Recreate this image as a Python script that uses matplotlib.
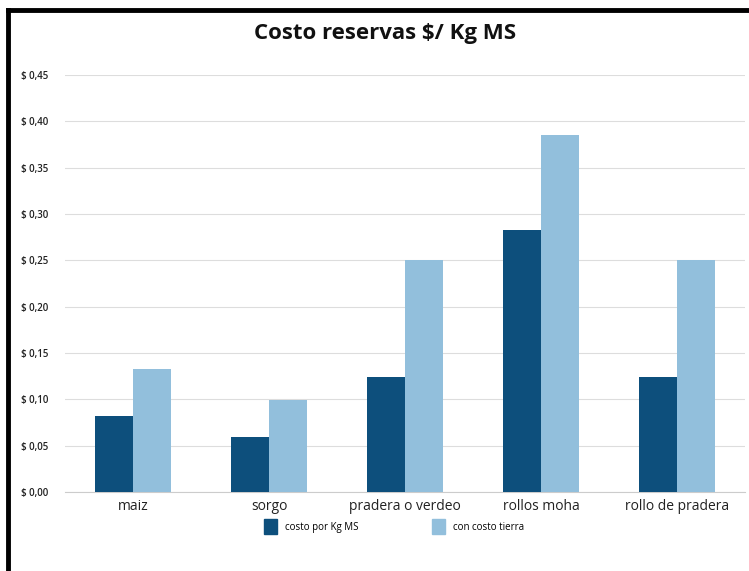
import matplotlib
matplotlib.use("Agg")
import matplotlib.pyplot as plt
import numpy as np
from matplotlib.lines import Line2D
from matplotlib.patches import Patch

categories = ["maiz", "sorgo", "pradera o verdeo", "rollos moha", "rollo de pradera"]
costo_kg = [0.082, 0.059, 0.124, 0.283, 0.124]
costo_tierra = [0.133, 0.099, 0.250, 0.385, 0.250]
yticks = [0, 0.05, 0.10, 0.15, 0.20, 0.25, 0.30, 0.35, 0.40, 0.45]
ytick_labels = ["$ 0,00", "$ 0,05", "$ 0,10", "$ 0,15", "$ 0,20",
                "$ 0,25", "$ 0,30", "$ 0,35", "$ 0,40", "$ 0,45"]

DARK = "#0d4f7c"
LIGHT = "#92bfdc"

plt.rcParams["font.family"] = ["Open Sans", "DejaVu Sans"]

fig = plt.figure(figsize=(7.49, 5.71), dpi=100)
ax = fig.add_axes([0.087, 0.138, 0.908, 0.731])

x = np.arange(len(categories))
w = 0.28
ax.bar(x - w / 2, costo_kg, w, color=DARK, zorder=3)
ax.bar(x + w / 2, costo_tierra, w, color=LIGHT, zorder=3)

ax.set_xlim(-0.5, len(categories) - 0.5)
ax.set_ylim(0, 0.45)
ax.set_yticks(yticks)
ax.set_yticklabels(ytick_labels, fontsize=7, fontweight="semibold", color="#222222")
ax.set_xticks(x)
ax.set_xticklabels(categories, fontsize=10, color="#222222")
ax.tick_params(axis="y", length=0, pad=12)
ax.tick_params(axis="x", length=0, pad=5)
ax.grid(axis="y", color="#dddddd", lw=0.8, zorder=0)
for s in ["top", "right", "left"]:
    ax.spines[s].set_visible(False)
ax.spines["bottom"].set_color("#cccccc")
ax.spines["bottom"].set_linewidth(0.8)

fig.text(0.514, 0.942, "Costo reservas $/ Kg MS", ha="center", va="center",
         fontsize=16, fontweight="bold", color="#111111")

handles = [Patch(color=DARK), Patch(color=LIGHT)]
fig.legend(handles, ["costo por Kg MS", "con costo tierra"], loc="center",
           bbox_to_anchor=(0.526, 0.078), ncol=2, frameon=False, fontsize=7,
           handlelength=1.4, handleheight=1.9, columnspacing=7.5, handletextpad=0.8)

# black frame on top and left
fig.add_artist(Line2D([0.011, 1.0], [0.982, 0.982], color="black", lw=3.5,
                      transform=fig.transFigure))
fig.add_artist(Line2D([0.011, 0.011], [0.0, 0.982], color="black", lw=3.5,
                      transform=fig.transFigure))

fig.savefig("out.png", dpi=100)
